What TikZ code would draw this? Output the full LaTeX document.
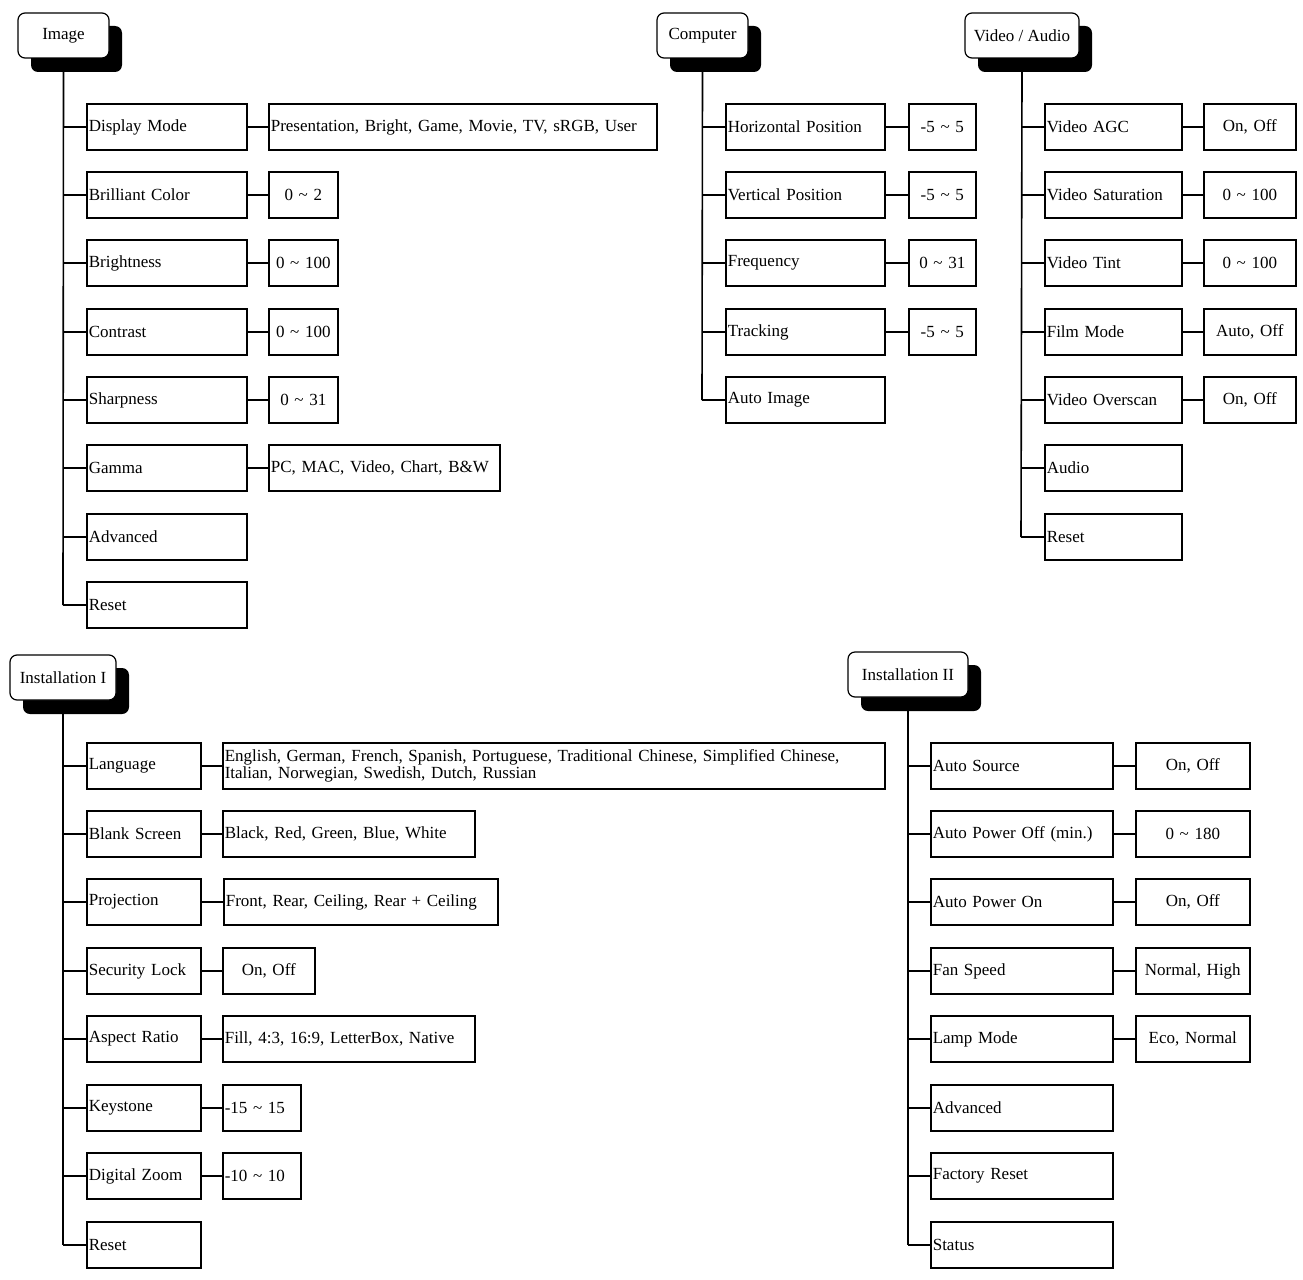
\documentclass[tikz,border=0pt]{standalone}
\usepackage{fontspec}
\setmainfont{Liberation Serif}
\begin{document}
\begin{tikzpicture}[x=1pt,y=-1pt,line width=1.6pt,
  box/.style={draw,rectangle,anchor=west,minimum height=46pt,inner sep=2pt,font=\fontsize{17}{17}\selectfont},
  hdr/.style={draw,fill=white,rounded corners=7pt,line width=1.2pt,inner sep=0pt,font=\fontsize{17}{17}\selectfont},
  shd/.style={fill=black,rounded corners=7pt}]
\useasboundingbox (0,0) rectangle (1303,1279);
% headers
\newcommand\hdrbox[6]{% name, x1,y1,x2,y2, text
  \fill[shd] (#2+13,#3+13) rectangle (#4+13,#5+14);
  \node[hdr,minimum width=#4-#2,minimum height=#5-#3] (#1) at ({(#2+#4)/2},{(#3+#5)/2}) {#6};
  \coordinate (#1b) at ({(#2+#4)/2},#5+14);}
\hdrbox{hA}{18}{13}{109}{58}{Image}
\hdrbox{hB}{657}{13}{748}{58}{Computer}
\hdrbox{hC}{965}{13}{1079}{58}{Video / Audio}
\hdrbox{hD}{10}{655}{116}{700}{Installation I}
\hdrbox{hE}{848}{652}{968}{697}{Installation II}
% generic item lists
\newcommand\items[5]{% prefix, trunk x, item x, item width, list name/y/text
  \foreach \n/\y/\t in {#5}{
    \node[box,minimum width=#4,text width=#4-4,align=left] (#1\n) at (#3,\y) {\t};
    \coordinate (#1t\n) at (#2,\y);
    \draw (#1t\n) -- (#1\n.west);
  }}
\newcommand\vals[3]{% prefix, value list: n/x/width/align/text
  \foreach \n/\x/\w/\a/\t in {#3}{
    \node[box,minimum width=\w,text width=\w-4,align=\a] (#1v\n) at (\x,{0}) {};
  }}
% Image
\items{a}{63}{86}{160}{1/127/Display Mode,2/195/Brilliant Color,3/263/Brightness,4/332/Contrast,5/400/Sharpness,6/468/Gamma,7/537/Advanced,8/605/Reset}
\draw (hAb) -- (at8);
\foreach \n/\y/\x/\w/\a/\t in {1/127/268/388/left/{Presentation, Bright, Game, Movie, TV, sRGB, User},2/195/268/69/center/0 \char`~{} 2,3/263/268/69/center/0 \char`~{} 100,4/332/268/69/center/0 \char`~{} 100,5/400/268/69/center/0 \char`~{} 31,6/468/268/231/left/{PC, MAC, Video, Chart, B\&W}}{
  \node[box,minimum width=\w,text width=\w-4,align=\a] (av\n) at (\x,\y) {\t};
  \draw (a\n.east) -- (av\n.west);}
% Computer
\items{b}{702}{725}{159}{1/127/Horizontal Position,2/195/Vertical Position,3/263/Frequency,4/332/Tracking,5/400/Auto Image}
\draw (hBb) -- (bt5);
\foreach \n/\y/\t in {1/127/-5 \char`~{} 5,2/195/-5 \char`~{} 5,3/263/0 \char`~{} 31,4/332/-5 \char`~{} 5}{
  \node[box,minimum width=67,text width=63,align=center] (bv\n) at (908,\y) {\t};
  \draw (b\n.east) -- (bv\n.west);}
% Video / Audio
\items{c}{1021}{1044}{137}{1/127/Video AGC,2/195/Video Saturation,3/263/Video Tint,4/332/Film Mode,5/400/Video Overscan,6/468/Audio,7/537/Reset}
\draw (hCb) -- (ct7);
\foreach \n/\y/\t in {1/127/{On, Off},2/195/0 \char`~{} 100,3/263/0 \char`~{} 100,4/332/{Auto, Off},5/400/{On, Off}}{
  \node[box,minimum width=92,text width=88,align=center] (cv\n) at (1203,\y) {\t};
  \draw (c\n.east) -- (cv\n.west);}
% Installation I
\items{d}{63}{86}{114}{1/766/Language,2/834/Blank Screen,3/902/Projection,4/971/Security Lock,5/1039/Aspect Ratio,6/1108/Keystone,7/1176/Digital Zoom,8/1245/Reset}
\draw (hDb) -- (dt8);
\foreach \n/\y/\x/\w/\a/\t in {1/766/222/662/left/{English, German, French, Spanish, Portuguese, Traditional Chinese, Simplified Chinese,\\Italian, Norwegian, Swedish, Dutch, Russian},2/834/222/252/left/{Black, Red, Green, Blue, White},3/902/223/274/left/{Front, Rear, Ceiling, Rear + Ceiling},4/971/222/92/center/{On, Off},5/1039/222/252/left/{Fill, 4:3, 16:9, LetterBox, Native},6/1108/222/78/left/-15 \char`~{} 15,7/1176/222/78/left/-10 \char`~{} 10}{
  \node[box,minimum width=\w,text width=\w-4,align=\a] (dv\n) at (\x,\y) {\t};
  \draw (d\n.east) -- (dv\n.west);}
% Installation II
\items{e}{908}{930}{182}{1/766/Auto Source,2/834/Auto Power Off (min.),3/902/Auto Power On,4/971/Fan Speed,5/1039/Lamp Mode,6/1108/Advanced,7/1176/Factory Reset,8/1245/Status}
\draw (hEb) -- (et8);
\foreach \n/\y/\t in {1/766/{On, Off},2/834/0 \char`~{} 180,3/902/{On, Off},4/971/{Normal, High},5/1039/{Eco, Normal}}{
  \node[box,minimum width=114,text width=110,align=center] (ev\n) at (1135,\y) {\t};
  \draw (e\n.east) -- (ev\n.west);}
\end{tikzpicture}
\end{document}
